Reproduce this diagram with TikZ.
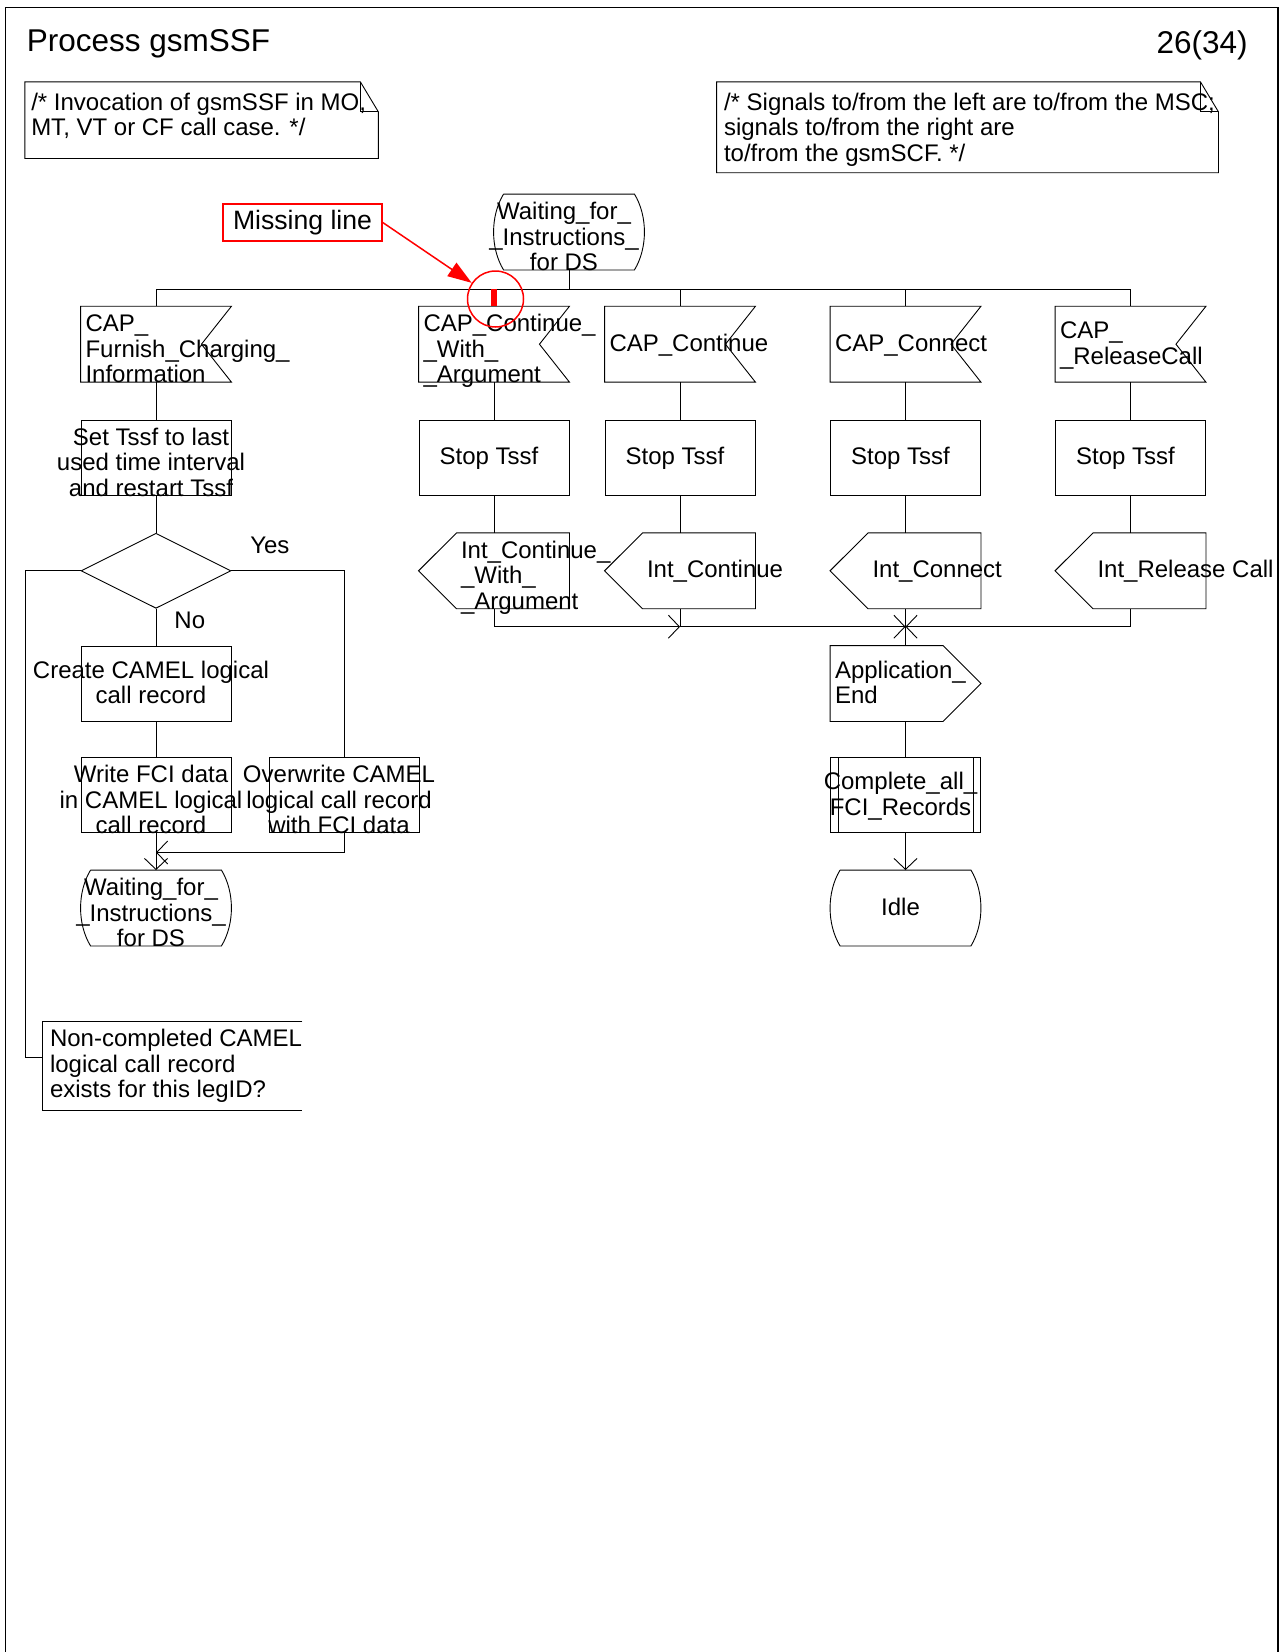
\documentclass[tikz,border=0pt]{standalone}
\usepackage{fontspec}
\setmainfont{Liberation Sans}
\usepackage{tikz}
\usetikzlibrary{shapes.geometric, arrows.meta, positioning, calc}
\definecolor{markred}{RGB}{255,0,0}

\newcommand{\ltxt}[3]{\makebox[#1][l]{\hspace*{#2}\begin{tabular}[t]{@{}l@{}}#3\end{tabular}}}
\newcommand{\intxt}[1]{\ltxt{150pt}{4.5pt}{#1}}
\newcommand{\outtxt}[1]{\ltxt{150pt}{42pt}{#1}}
\newcommand{\ctxt}[1]{\makebox[150pt]{\begin{tabular}[t]{@{}c@{}}#1\end{tabular}\hspace*{10pt}}}

\begin{document}
\begin{tikzpicture}[
    x=1pt, y=-1pt, line width=0.9pt,
    every node/.style={font=\fontsize{24}{25.5}\selectfont},
    label/.style={inner sep=0pt},
    outline/.style={line width=0.9pt},
    sym/.style={rectangle, inner sep=0pt, minimum width=150pt, minimum height=75pt, text height=44.5pt, text depth=30.5pt},
    two/.style={text height=32pt, text depth=43pt},
    three/.style={text height=25pt, text depth=50pt},
    task/.style={sym, draw, outline},
    decision/.style={diamond, draw, outline, aspect=2, inner sep=0pt, minimum width=150pt, minimum height=75pt},
    sdlin/.style={sym, append after command={\pgfextra{\draw[outline] (\tikzlastnode.north west) -- (\tikzlastnode.north east) -- ([xshift=-30pt]\tikzlastnode.east) -- (\tikzlastnode.south east) -- (\tikzlastnode.south west) -- cycle;}}},
    sdlout/.style={sym, append after command={\pgfextra{\draw[outline] (\tikzlastnode.west) -- ([xshift=38pt]\tikzlastnode.north west) -- (\tikzlastnode.north east) -- (\tikzlastnode.south east) -- ([xshift=38pt]\tikzlastnode.south west) -- cycle;}}},
    sdloutr/.style={sym, append after command={\pgfextra{\draw[outline] (\tikzlastnode.north west) -- ([xshift=-38pt]\tikzlastnode.north east) -- (\tikzlastnode.east) -- ([xshift=-38pt]\tikzlastnode.south east) -- (\tikzlastnode.south west) -- cycle;}}},
    sdlstate/.style={sym, append after command={\pgfextra{\draw[outline] ([xshift=10pt]\tikzlastnode.north west) -- ([xshift=-10pt]\tikzlastnode.north east) .. controls ([xshift=3.3pt,yshift=-22pt]\tikzlastnode.north east) and ([xshift=3.3pt,yshift=22pt]\tikzlastnode.south east) .. ([xshift=-10pt]\tikzlastnode.south east) -- ([xshift=10pt]\tikzlastnode.south west) .. controls ([xshift=-3.3pt,yshift=22pt]\tikzlastnode.south west) and ([xshift=-3.3pt,yshift=-22pt]\tikzlastnode.north west) .. ([xshift=10pt]\tikzlastnode.north west);}}},
    proc/.style={sym, draw, outline, append after command={\pgfextra{\draw[outline] ([xshift=8pt]\tikzlastnode.north west) -- ([xshift=8pt]\tikzlastnode.south west) ([xshift=-8pt]\tikzlastnode.north east) -- ([xshift=-8pt]\tikzlastnode.south east);}}},
    note/.style={rectangle, inner sep=0pt, text height=27.7pt, append after command={\pgfextra{\draw[outline] (\tikzlastnode.north west) -- ([xshift=-18pt]\tikzlastnode.north east) -- ([yshift=-30pt]\tikzlastnode.north east) -- (\tikzlastnode.south east) -- (\tikzlastnode.south west) -- cycle; \draw[outline] ([xshift=-18pt]\tikzlastnode.north east) |- ([yshift=-30pt]\tikzlastnode.north east);}}},
    textext/.style={rectangle, inner sep=0pt, append after command={\pgfextra{\draw[outline] (\tikzlastnode.north east) -- (\tikzlastnode.north west) -- (\tikzlastnode.south west) -- (\tikzlastnode.south east);}}},
    flow/.style={-{Straight Barb[length=11pt,width=23pt]}},
    miss/.style={draw=markred, line width=1.5pt, -{Triangle[length=24pt,width=16pt]}},
    gapbar/.style={draw=markred, line width=5.5pt}
]
\useasboundingbox (0,0) rectangle (1281,1652);

% Frame and header
\draw[line width=1.1pt] (5.3,1652) -- (5.3,7.3) -- (1278,7.3) -- (1278,1652);
\node[label, font=\fontsize{31.5}{34}\selectfont, anchor=base west] (title) at (26.5,51.7) {Process gsmSSF};
\node[label, font=\fontsize{31.5}{34}\selectfont, anchor=base east] (page) at (1248,53) {26(34)};

% Comments
\node[note, text depth=48pt] (note1) at (201.6,120.2) {\ltxt{352.7pt}{6pt}{/* Invocation of gsmSSF in MO,\\MT, VT or CF call case. */}};
\node[note, text depth=62.3pt] (note2) at (967.5,127.3) {\ltxt{501pt}{7pt}{/* Signals to/from the left are to/from the MSC;\\signals to/from the right are\\to/from the gsmSCF. */}};

% Start state and inputs
\node[sdlstate, three] (wait1) at (569,232) {\ctxt{Waiting\_for\_\\\_Instructions\_\\for DS}};
\coordinate (bus) at (569,289.3);

\node[sdlin, three] (furn) at (156,344.2) {\intxt{CAP\_\\Furnish\_Charging\_\\Information}};
\node[sdlin, three] (cwa) at (494,344.2) {\intxt{CAP\_Continue\_\\\_With\_\\\_Argument}};
\node[sdlin] (cont) at (680,344.2) {\intxt{CAP\_Continue}};
\node[sdlin] (conn) at (905.5,344.2) {\intxt{CAP\_Connect}};
\node[sdlin, two] (rel) at (1130.5,344.2) {\intxt{CAP\_\\\_ReleaseCall}};

% Timer tasks
\node[task, three] (settssf) at (156,457.5) {\ctxt{Set Tssf to last\\used time interval\\and restart Tssf}};
\node[task] (stop1) at (494,457.5) {\ctxt{Stop Tssf}};
\node[task] (stop2) at (680,457.5) {\ctxt{Stop Tssf}};
\node[task] (stop3) at (905.5,457.5) {\ctxt{Stop Tssf}};
\node[task] (stop4) at (1130.5,457.5) {\ctxt{Stop Tssf}};

% Decision and outputs
\node[decision] (dec) at (156,570.8) {};
\node[label, anchor=base west] (yes) at (249.8,553) {Yes};
\node[label, anchor=base west] (no) at (174,628.3) {No};

\node[sdlout, three] (icwa) at (494,570.8) {\outtxt{Int\_Continue\_\\\_With\_\\\_Argument}};
\node[sdlout] (icont) at (680,570.8) {\outtxt{Int\_Continue}};
\node[sdlout] (iconn) at (905.5,570.8) {\outtxt{Int\_Connect}};
\node[sdlout] (irel) at (1130.5,570.8) {\outtxt{Int\_Release Call}};

% Left branch
\node[task, two] (create) at (156,683.5) {\ctxt{Create CAMEL logical\\call record}};
\node[task, three] (writefci) at (156,795) {\ctxt{Write FCI data\\in CAMEL logical\\call record}};
\node[task, three] (overfci) at (344,795) {\ctxt{Overwrite CAMEL\\logical call record\\with FCI data}};
\node[sdlstate, three] (wait2) at (156,908) {\ctxt{Waiting\_for\_\\\_Instructions\_\\for DS}};
\coordinate (jA) at (156,852.5);

\node[textext, text height=25pt, text depth=63.3pt] (legnote) at (172.5,1065.9) {\ltxt{259pt}{7pt}{Non-completed CAMEL\\logical call record\\exists for this legID?}};

% Right branch
\node[sdloutr, two] (append) at (905.5,683.5) {\intxt{Application\_\\End}};
\node[proc, two] (complete) at (905.5,795) {\ctxt{Complete\_all\_\\FCI\_Records}};
\node[sdlstate] (idle) at (905.5,908) {\ctxt{Idle}};
\coordinate (jC) at (680,626.7);
\coordinate (jD) at (905.5,626.7);

% Connectors
\draw (wait1.south) -- (bus);
\draw (bus) -| (furn.north);
\draw (bus) -| (cont.north);
\draw (bus) -| (conn.north);
\draw (bus) -| (rel.north);

\draw (furn.south) -- (settssf.north);
\draw (settssf.south) -- (dec.north);
\draw (dec.south) -- (create.north);
\draw (create.south) -- (writefci.north);
\draw (dec.east) -| (overfci.north);
\draw (dec.west) -- ++(-55.1,0) |- ([yshift=8pt]legnote.west);
\draw[flow] (overfci.south) |- (jA);
\draw[flow] (writefci.south) -- (wait2.north);

\draw (cwa.south) -- (stop1.north);
\draw (cont.south) -- (stop2.north);
\draw (conn.south) -- (stop3.north);
\draw (rel.south) -- (stop4.north);
\draw (stop1.south) -- (icwa.north);
\draw (stop2.south) -- (icont.north);
\draw (stop3.south) -- (iconn.north);
\draw (stop4.south) -- (irel.north);

\draw[flow] (icwa.south) |- (jC);
\draw (icont.south) -- (jC);
\draw[flow] (jC) -- (jD);
\draw[flow] (irel.south) |- (jD);
\draw (iconn.south) -- (append.north);
\draw (append.south) -- (complete.north);
\draw[flow] (complete.south) -- (idle.north);

% Missing line marking
\draw[gapbar] (bus -| cwa.north) -- (cwa.north);
\node[draw=markred, line width=1.5pt, rectangle, inner sep=0pt, minimum width=159pt, minimum height=37pt, font=\fontsize{26.6}{28}\selectfont] (mline) at (302.5,222.5) {Missing line};
\node[circle, draw=markred, line width=1.5pt, minimum size=56pt, inner sep=0pt] (ring) at (495.5,299) {};
\draw[miss] (mline.east) -- (ring);

\end{tikzpicture}
\end{document}
